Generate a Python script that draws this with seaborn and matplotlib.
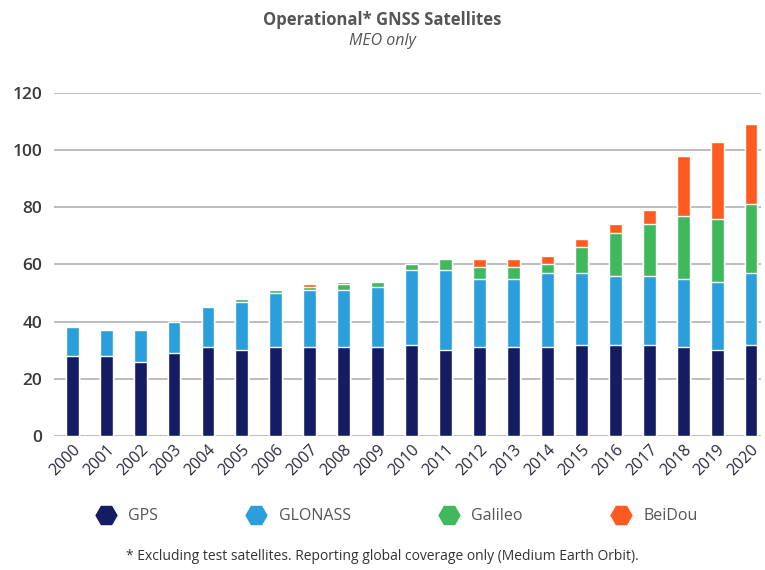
import numpy as np
import pandas as pd
import seaborn as sns
import matplotlib.pyplot as plt
from matplotlib.lines import Line2D

years = [str(y) for y in range(2000, 2021)]
gps = [28, 28, 26, 29, 31, 30, 31, 31, 31, 31, 32, 30, 31, 31, 31, 32, 32, 32, 31, 30, 32]
glonass = [10, 9, 11, 11, 14, 17, 19, 20, 20, 21, 26, 28, 24, 24, 26, 25, 24, 24, 24, 24, 25]
galileo = [0, 0, 0, 0, 0, 1, 1, 1, 2, 2, 2, 4, 4, 4, 3, 9, 15, 18, 22, 22, 24]
beidou = [0, 0, 0, 0, 0, 0, 0, 1, 1, 0, 0, 0, 3, 3, 3, 3, 3, 5, 21, 27, 28]

systems = ["GPS", "GLONASS", "Galileo", "BeiDou"]
colors = ["#141c64", "#2a9fdc", "#40b85c", "#ff5a1f"]

df = pd.DataFrame({"year": years, "GPS": gps, "GLONASS": glonass,
                   "Galileo": galileo, "BeiDou": beidou})

sns.set_theme(style="white")
plt.rcParams["font.family"] = ["Open Sans", "DejaVu Sans"]

fig = plt.figure(figsize=(7.65, 5.7), dpi=100)
ax = fig.add_axes([0.07, 0.235, 0.925, 0.602])

# stacked bars: draw cumulative totals from top layer down
cum = df[systems].cumsum(axis=1)
for name, col in reversed(list(zip(systems, colors))):
    sns.barplot(x=df["year"], y=cum[name], color=col, width=0.38,
                ax=ax, zorder=3, saturation=1)

ax.set_ylim(0, 120)
ax.set_xlim(-0.55, 20.3)
ax.set_yticks(range(0, 121, 20))
ax.yaxis.grid(True, color="#bdbdbd", linewidth=1.4, zorder=0)
ax.set_axisbelow(True)
for s in ax.spines.values():
    s.set_visible(False)
ax.set_xlabel("")
ax.set_ylabel("")
ax.tick_params(axis="y", labelsize=12.5, labelcolor="#3a3a3a", pad=8, length=0)
ax.tick_params(axis="x", labelsize=11.5, labelcolor="#2a2a3a", length=0, pad=4)
for lab in ax.get_yticklabels():
    lab.set_fontweight("semibold")
plt.setp(ax.get_xticklabels(), rotation=45, ha="right", rotation_mode="anchor")

fig.text(0.5, 0.965, "Operational* GNSS Satellites", ha="center", va="center",
         fontsize=12, fontweight="bold", color="#555555")
fig.text(0.5, 0.928, "MEO only", ha="center", va="center",
         fontsize=11.5, style="italic", color="#555555")

handles = [Line2D([], [], marker="H", linestyle="", markersize=15,
                  markerfacecolor=c, markeredgecolor=c) for c in colors]
fig.legend(handles, systems, loc="center", bbox_to_anchor=(0.515, 0.094),
           ncol=4, frameon=False, fontsize=11.5, labelcolor="#555555",
           columnspacing=5.15, handletextpad=0.4)

fig.text(0.5, 0.024, "* Excluding test satellites. Reporting global coverage only (Medium Earth Orbit).",
         ha="center", va="center", fontsize=10, color="#333333")

fig.savefig("out.png", dpi=100)
